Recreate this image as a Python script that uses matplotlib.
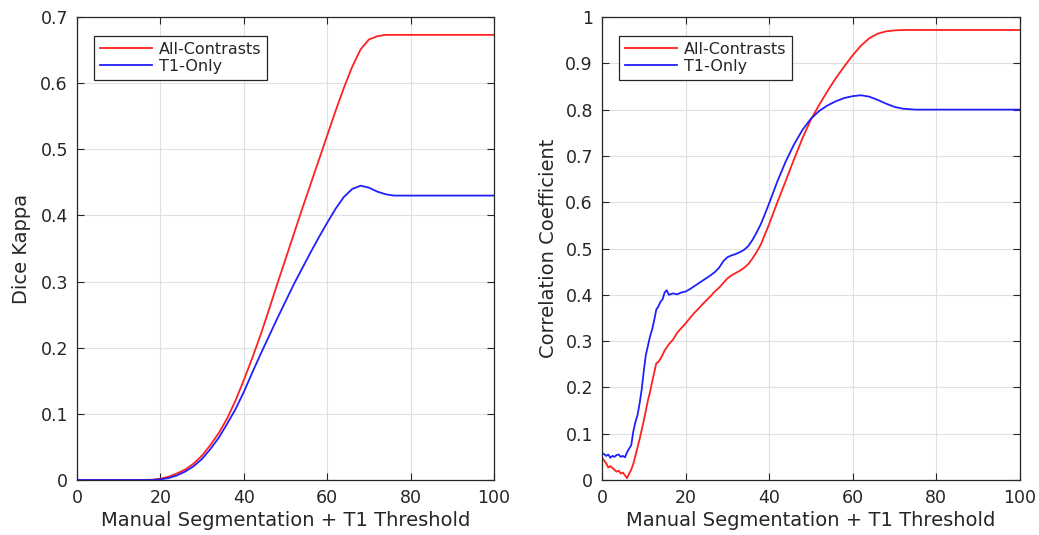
import numpy as np
import matplotlib.pyplot as plt
from matplotlib.ticker import FuncFormatter

# Left panel: Dice kappa vs threshold
dice_x = [0, 5, 10, 15, 18, 20, 22, 24, 26, 28, 30, 32, 34, 36, 38, 40, 42, 44, 46, 48,
          50, 52, 54, 56, 58, 60, 62, 64, 66, 68, 70, 72, 74, 76, 80, 90, 100]
dice_all = [0, 0, 0, 0, 0.0005, 0.002, 0.005, 0.01, 0.016, 0.025, 0.037, 0.053, 0.071, 0.093,
            0.12, 0.151, 0.184, 0.219, 0.257, 0.296, 0.334, 0.372, 0.41, 0.447, 0.484, 0.521,
            0.558, 0.593, 0.625, 0.651, 0.666, 0.671, 0.673, 0.673, 0.673, 0.673, 0.673]
dice_t1 = [0, 0, 0, 0, 0, 0.001, 0.003, 0.007, 0.013, 0.021, 0.032, 0.047, 0.064, 0.085,
           0.107, 0.133, 0.162, 0.19, 0.217, 0.244, 0.27, 0.296, 0.32, 0.344, 0.367, 0.389,
           0.41, 0.428, 0.44, 0.445, 0.442, 0.436, 0.432, 0.43, 0.43, 0.43, 0.43]

# Right panel: correlation coefficient vs threshold
corr_x = [0, 0.5, 1, 1.5, 2, 2.5, 3, 3.5, 4, 4.5, 5, 5.5, 6, 6.5, 7, 7.5, 8, 8.5, 9, 9.5,
          10, 10.5, 11, 11.5, 12, 12.5, 13, 13.5, 14, 14.5, 15, 15.5, 16, 17, 18, 19, 20,
          21, 22, 23, 24, 25, 26, 27, 28, 29, 30, 31, 32, 33, 34, 35, 36, 37, 38, 39, 40,
          42, 44, 46, 48, 50, 52, 54, 56, 58, 60, 62, 64, 66, 68, 70, 72, 75, 80, 100]
corr_all = [0.048, 0.042, 0.036, 0.027, 0.03, 0.026, 0.022, 0.018, 0.02, 0.014, 0.016, 0.01,
            0.004, 0.014, 0.022, 0.035, 0.052, 0.07, 0.088, 0.108, 0.128, 0.15, 0.172, 0.19,
            0.212, 0.232, 0.252, 0.255, 0.262, 0.27, 0.28, 0.286, 0.293, 0.303, 0.318, 0.328,
            0.338, 0.349, 0.36, 0.369, 0.379, 0.388, 0.397, 0.407, 0.415, 0.425, 0.435, 0.442,
            0.447, 0.452, 0.458, 0.466, 0.478, 0.492, 0.508, 0.53, 0.552, 0.6, 0.646, 0.693,
            0.738, 0.778, 0.81, 0.84, 0.868, 0.893, 0.917, 0.938, 0.954, 0.964, 0.969, 0.971,
            0.972, 0.972, 0.972, 0.972]
corr_t1 = [0.058, 0.056, 0.052, 0.055, 0.048, 0.052, 0.05, 0.054, 0.055, 0.05, 0.052, 0.049,
           0.06, 0.068, 0.075, 0.105, 0.125, 0.14, 0.165, 0.195, 0.235, 0.27, 0.29, 0.31,
           0.325, 0.345, 0.368, 0.375, 0.385, 0.39, 0.405, 0.41, 0.4, 0.403, 0.401, 0.405,
           0.407, 0.412, 0.418, 0.424, 0.43, 0.436, 0.442, 0.449, 0.458, 0.472, 0.481, 0.485,
           0.488, 0.492, 0.497, 0.505, 0.518, 0.534, 0.552, 0.574, 0.597, 0.645, 0.688, 0.725,
           0.756, 0.78, 0.797, 0.809, 0.818, 0.825, 0.829, 0.831, 0.828, 0.821, 0.813, 0.806,
           0.802, 0.8, 0.8, 0.8]

series_labels = ['All-Contrasts', 'T1-Only']
x_label = 'Manual Segmentation + T1 Threshold'

txt = '#262626'
plt.rcParams['font.family'] = ['DejaVu Sans']
plt.rcParams['text.color'] = txt
plt.rcParams['axes.labelcolor'] = txt
plt.rcParams['xtick.color'] = txt
plt.rcParams['ytick.color'] = txt

fig = plt.figure(figsize=(10.39, 5.35), dpi=100)
ax1 = fig.add_axes([0.0741, 0.1028, 0.4014, 0.8654])
ax2 = fig.add_axes([0.5794, 0.1028, 0.4019, 0.8654])

def style(ax, ymax, yticks, ylabel, ypad):
    ax.set_xlim(0, 100)
    ax.set_ylim(0, ymax)
    ax.set_xticks([0, 20, 40, 60, 80, 100])
    ax.set_yticks(yticks)
    ax.yaxis.set_major_formatter(FuncFormatter(lambda v, p: '%g' % round(v, 2)))
    ax.grid(True, color='#e0e0e0', linewidth=0.8)
    ax.set_axisbelow(True)
    ax.tick_params(direction='in', top=True, right=True, labelsize=12.5, length=5,
                   width=0.8, pad=6.5)
    for s in ax.spines.values():
        s.set_color(txt)
        s.set_linewidth(0.9)
    ax.set_xlabel(x_label, fontsize=14, labelpad=3)
    ax.set_ylabel(ylabel, fontsize=14, labelpad=ypad)

ax1.plot(dice_x, dice_all, color='#ff2020', lw=1.3, label=series_labels[0])
ax1.plot(dice_x, dice_t1, color='#2020ff', lw=1.3, label=series_labels[1])
style(ax1, 0.7, np.arange(0, 0.71, 0.1), 'Dice Kappa', 7)

ax2.plot(corr_x, corr_all, color='#ff2020', lw=1.3, label=series_labels[0])
ax2.plot(corr_x, corr_t1, color='#2020ff', lw=1.3, label=series_labels[1])
style(ax2, 1.0, np.arange(0, 1.01, 0.1), 'Correlation Coefficient', 5)

for ax in (ax1, ax2):
    leg = ax.legend(loc='upper left', bbox_to_anchor=(0.041, 0.959), borderaxespad=0,
                    fontsize=11.5, fancybox=False, edgecolor=txt, handlelength=3.3,
                    framealpha=1, borderpad=0.35, labelspacing=0.15, handletextpad=0.4)
    leg.get_frame().set_linewidth(0.9)

fig.savefig('out.png', dpi=100)
